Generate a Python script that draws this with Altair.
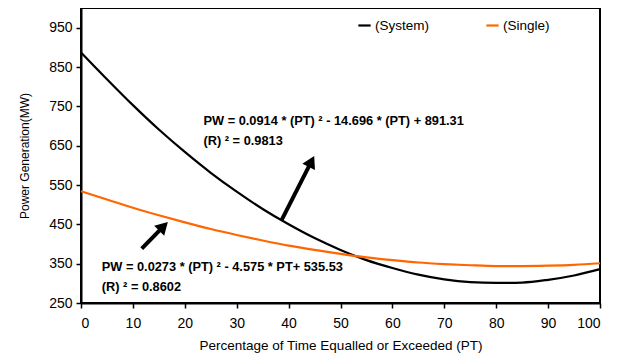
import altair as alt
import pandas as pd

# ---- data ----
pt = [0, 5, 10, 15, 20, 25, 30, 35, 40, 45, 50, 55, 60, 65, 70, 75, 80, 85, 90, 95, 100]
system_pw = [887, 819, 753, 691, 634, 581, 533, 489, 450, 415, 385, 359, 339, 322, 310, 303, 301, 302, 309, 320, 336]
single_pw = [534, 513, 492, 473, 455, 438, 423, 409, 396, 385, 375, 366, 359, 353, 349, 346, 344, 344, 345, 347, 351]

series_names = ["(System)", "(Single)"]
series_colors = ["#000000", "#FF6600"]

x_ticks = [0, 10, 20, 30, 40, 50, 60, 70, 80, 90, 100]
y_ticks = [250, 350, 450, 550, 650, 750, 850, 950]

# annotation texts and anchors (data units)
ann_text = [
    "PW = 0.0914 * (PT) ² - 14.696 * (PT) + 891.31",
    "(R) ² = 0.9813",
    "PW = 0.0273 * (PT) ² - 4.575 * PT+ 535.53",
    "(R) ² = 0.8602",
]
ann_x = [23.6, 23.6, 4.0, 4.0]
ann_y = [712, 662, 341, 291]

# arrows: tail -> head
arrow_x0 = [38.7, 11.7]
arrow_y0 = [462, 388]
arrow_x1 = [44.4, 15.9]
arrow_y1 = [610, 445]
arrow_angle = [27, 45]

# ---- tables ----
rows = []
for name, vals in zip(series_names, [system_pw, single_pw]):
    for x, y in zip(pt, vals):
        rows.append({"PT": x, "PW": y, "series": name})
df = pd.DataFrame(rows)
ann_df = pd.DataFrame({"x": ann_x, "y": ann_y, "t": ann_text})
arr_df = pd.DataFrame({"x0": arrow_x0, "y0": arrow_y0, "x1": arrow_x1, "y1": arrow_y1, "a": arrow_angle})

xs = alt.Scale(domain=[0, 100], nice=False, zero=False)
ys = alt.Scale(domain=[250, 1000], nice=False, zero=False)

lines = alt.Chart(df).mark_line(strokeWidth=2.2, interpolate="monotone").encode(
    x=alt.X("PT:Q", scale=xs,
            axis=alt.Axis(values=x_ticks, title="Percentage of Time Equalled or Exceeded (PT)",
                          grid=False, labelPadding=8, titlePadding=8, titleFontSize=13.5)),
    y=alt.Y("PW:Q", scale=ys,
            axis=alt.Axis(values=y_ticks, title="Power Generation(MW)",
                          grid=False, labelPadding=4, titlePadding=17, titleFontSize=12)),
    color=alt.Color("series:N", sort=series_names,
                    scale=alt.Scale(domain=series_names, range=series_colors),
                    legend=alt.Legend(title=None, orient="none", direction="horizontal",
                                      legendX=276, legendY=10, symbolType="stroke",
                                      symbolStrokeWidth=2.2, symbolSize=150,
                                      labelFontSize=13.5, labelFont="Liberation Sans",
                                      labelColor="black",
                                      columnPadding=52, labelOffset=3)),
)

texts = alt.Chart(ann_df).mark_text(align="left", baseline="middle", fontWeight="bold",
                                    fontSize=12.8, font="Liberation Sans", color="black").encode(
    x=alt.X("x:Q", scale=xs), y=alt.Y("y:Q", scale=ys), text="t:N")

shafts = alt.Chart(arr_df).mark_rule(strokeWidth=4, color="black").encode(
    x=alt.X("x0:Q", scale=xs), y=alt.Y("y0:Q", scale=ys), x2="x1:Q", y2="y1:Q")

heads = alt.Chart(arr_df).mark_point(shape="triangle-up", filled=True, size=200,
                                     color="black", opacity=1).encode(
    x=alt.X("x1:Q", scale=xs), y=alt.Y("y1:Q", scale=ys), angle=alt.Angle("a:Q", scale=None))

chart = alt.layer(lines, shafts, heads, texts).properties(
    width=519, height=295,
    autosize=alt.AutoSizeParams(type="none"),
    padding={"left": 73, "top": 0, "right": 16, "bottom": 51},
).configure_view(stroke="black", strokeWidth=2).configure_axis(
    domainColor="black", domainWidth=2, tickColor="black", tickWidth=1.5, tickSize=5,
    labelFont="Liberation Sans", titleFont="Liberation Sans",
    labelFontSize=14, titleFontWeight="normal",
    labelColor="black", titleColor="black",
)

chart.save("out.html", embed_options={"renderer": "svg", "actions": False})
